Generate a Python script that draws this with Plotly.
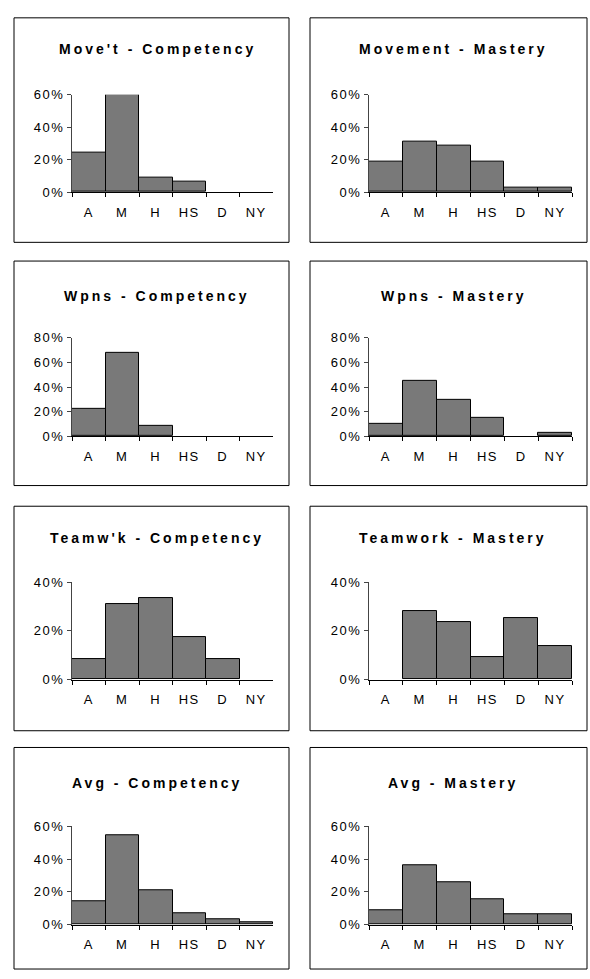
import plotly.graph_objects as go

categories = ["A", "M", "H", "HS", "D", "NY"]

titles = [
    "Move't - Competency", "Movement - Mastery",
    "Wpns - Competency", "Wpns - Mastery",
    "Teamw'k - Competency", "Teamwork - Mastery",
    "Avg - Competency", "Avg - Mastery",
]

move_comp = [24.1, 60.0, 9.0, 6.6, 0, 0]
move_mast = [18.8, 30.9, 28.5, 18.8, 2.6, 2.6]
wpns_comp = [22.1, 67.7, 8.8, 0, 0, 0]
wpns_mast = [10.1, 45.0, 29.3, 14.9, 0, 2.9]
team_comp = [8.5, 31.1, 33.5, 17.4, 8.5, 0]
team_mast = [0, 27.9, 23.4, 9.3, 25.4, 13.7]
avg_comp = [14.4, 54.4, 20.8, 6.8, 3.6, 1.4]
avg_mast = [9.0, 36.0, 26.0, 15.4, 6.6, 6.6]

series = [move_comp, move_mast, wpns_comp, wpns_mast,
          team_comp, team_mast, avg_comp, avg_mast]
y_max = [60, 60, 80, 80, 40, 40, 60, 60]
y_dtick = 20

W, H = 590, 979
col_x = [(72, 273), (369, 572)]
row_y = [(89, 188), (336, 436), (584, 683), (832, 932)]
box_x = [(14, 289), (310, 587)]
box_y = [(11, 239), (258, 486), (507, 735), (752, 977)]
title_y = [43, 293, 539, 788]
title_x = [157, 453]

FONT = "Arial, Liberation Sans, sans-serif"
TICK_SP = "<span style='letter-spacing:1.5px'>{}</span>"
TITLE_SP = "<b><span style='letter-spacing:3px'>{}</span></b>"

fig = go.Figure()
shapes = []
annotations = []
layout_axes = {}

for i, vals in enumerate(series):
    r, c = divmod(i, 2)
    n = i + 1
    xa = "x" if n == 1 else f"x{n}"
    ya = "y" if n == 1 else f"y{n}"
    fig.add_trace(go.Bar(
        x=categories, y=vals, xaxis=xa, yaxis=ya,
        marker=dict(
            color="#222222",
            line=dict(color="black", width=[1 if v > 0 else 0 for v in vals]),
            pattern=dict(shape=".", fgcolor="#202020", bgcolor="#b4b4b4",
                         size=2, solidity=0.45, fillmode="replace"),
        ),
        showlegend=False, hoverinfo="x+y",
    ))
    x0, x1 = col_x[c]
    y0, y1 = row_y[r]
    xk = "xaxis" if n == 1 else f"xaxis{n}"
    yk = "yaxis" if n == 1 else f"yaxis{n}"
    yticks = list(range(0, y_max[i] + 1, y_dtick))
    layout_axes[xk] = dict(
        domain=[x0 / W, x1 / W], anchor=ya,
        type="category", range=[-0.5, 5.5],
        tickmode="array", tickvals=categories,
        ticktext=[TICK_SP.format(cat) for cat in categories],
        showline=True, linecolor="black", linewidth=1,
        ticks="outside", tickson="boundaries", ticklen=4,
        tickcolor="black", showgrid=False, zeroline=False,
        tickfont=dict(family=FONT, size=13, color="black"),
        ticklabelstandoff=8, fixedrange=True,
    )
    layout_axes[yk] = dict(
        domain=[1 - y1 / H, 1 - y0 / H], anchor=xa,
        range=[0, y_max[i]],
        tickmode="array", tickvals=yticks,
        ticktext=[TICK_SP.format(f"{v}%") for v in yticks],
        showline=True, linecolor="#444444", linewidth=1,
        ticks="outside", ticklen=4, tickcolor="#444444",
        showgrid=False, zeroline=False,
        tickfont=dict(family=FONT, size=13, color="black"),
        fixedrange=True,
    )
    bx0, bx1 = box_x[c]
    by0, by1 = box_y[r]
    shapes.append(dict(
        type="rect", xref="paper", yref="paper",
        x0=bx0 / W, x1=bx1 / W, y0=1 - by1 / H, y1=1 - by0 / H,
        line=dict(color="black", width=1), fillcolor="rgba(0,0,0,0)",
        layer="below",
    ))
    annotations.append(dict(
        text=TITLE_SP.format(titles[i]),
        xref="paper", yref="paper",
        x=title_x[c] / W, y=1 - title_y[r] / H,
        xanchor="center", yanchor="middle", showarrow=False,
        font=dict(family=FONT, size=14, color="black"),
    ))

fig.update_layout(
    width=W, height=H,
    margin=dict(l=0, r=0, t=0, b=0),
    paper_bgcolor="white", plot_bgcolor="white",
    bargap=0,
    shapes=shapes, annotations=annotations,
    **layout_axes,
)

fig.write_html(
    "out.html",
    config={"displayModeBar": False},
    post_script="document.body.style.margin='0';document.body.style.padding='0';"
                "document.body.style.overflow='hidden';",
)
